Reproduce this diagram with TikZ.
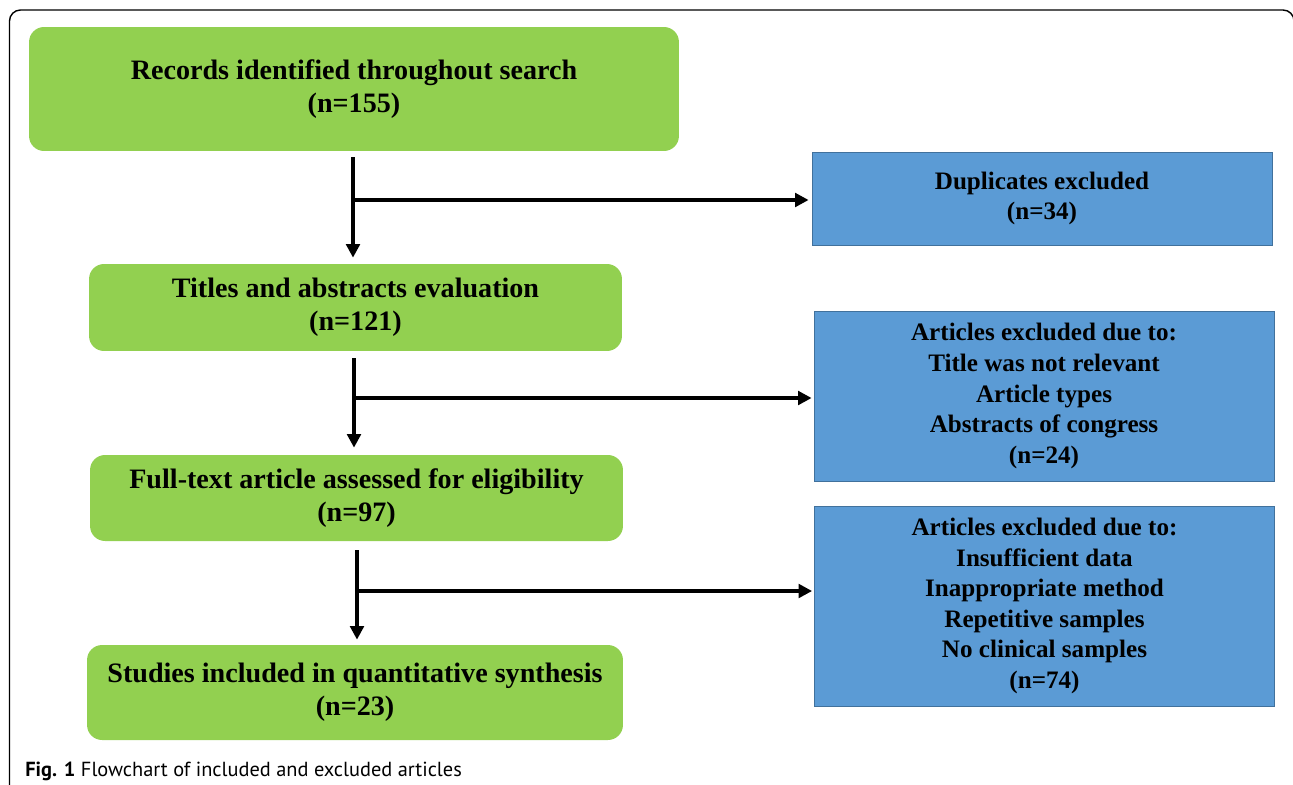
\documentclass[tikz,border=0pt]{standalone}
\usepackage{xcolor}
\usepackage{fontspec}
\setmainfont{Liberation Serif}
\newfontfamily\capfont{PT Sans}
\usepackage{tikz}
\usetikzlibrary{positioning}
\usetikzlibrary{shapes,calc,arrows.meta}

\definecolor{inclgreen}{HTML}{92D050}
\definecolor{exclblue}{HTML}{5B9BD5}
\definecolor{exclborder}{HTML}{41719C}

\begin{document}
\begin{tikzpicture}[x=0.02cm,y=-0.02cm,->,>={Triangle[length=0.27cm,width=0.27cm]},
  flow/.style={line width=2pt},
  incl node/.style={rectangle,rounded corners=0.3cm,fill=inclgreen,align=center,
    font=\fontsize{16}{18.8}\selectfont\bfseries,inner sep=0pt},
  excl node/.style={rectangle,fill=exclblue,draw=exclborder,line width=0.5pt,align=center,
    font=\fontsize{14.3}{17.4}\selectfont\bfseries,inner sep=0pt,minimum width=9.2cm}]
\useasboundingbox (0,0) rectangle (1293,784);
\clip (0,0) rectangle (1293,784);
\draw[-, line width=0.8pt, rounded corners=0.22cm] (9.5,10) rectangle (1294,840);

\node[incl node, minimum width=13cm, minimum height=2.48cm] at (354,89) (rec)
  {Records identified throughout search\\(n=155)};
\node[incl node, minimum width=10.66cm, minimum height=1.74cm] at (355.5,307.5) (tit)
  {Titles and abstracts evaluation\\(n=121)};
\node[incl node, minimum width=10.66cm, minimum height=1.72cm] at (356.5,498) (full)
  {Full-text article assessed for eligibility\\(n=97)};
\node[incl node, minimum width=10.72cm, minimum height=1.9cm] at (355,692.5) (stud)
  {Studies included in quantitative synthesis\\(n=23)};

\node[excl node, minimum height=1.86cm] at (1042,198.5) (dup)
  {Duplicates excluded\\(n=34)};
\node[excl node, minimum height=3.4cm] at (1044,396) (exone)
  {Articles excluded due to:\\Title was not relevant\\Article types\\Abstracts of congress\\(n=24)};
\node[excl node, minimum height=4cm] at (1044.5,606) (extwo)
  {Articles excluded due to:\\Insufficient data\\Inappropriate method\\Repetitive samples\\No clinical samples\\(n=74)};

\coordinate (bone) at (353,200);
\coordinate (btwo) at (354,398);
\coordinate (bthree) at (357,591);

\draw[flow, shorten <=0.12cm, shorten >=0.12cm] (rec.south -| bone) -- (tit.north -| bone);
\draw[flow, shorten <=0.14cm, shorten >=0.14cm] (tit.south -| btwo) -- (full.north -| btwo);
\draw[flow, shorten <=0.18cm, shorten >=0.1cm] (full.south -| bthree) -- (stud.north -| bthree);
\draw[flow, shorten >=0.06cm] (bone) -- (bone -| dup.west);
\draw[flow, shorten >=0.04cm] (btwo) -- (btwo -| exone.west);
\draw[flow, shorten >=0.04cm] (bthree) -- (bthree -| extwo.west);

\node[anchor=base west, inner sep=0pt, font=\capfont\fontsize{11.6}{14}\selectfont] at (25,776) (cap)
  {\textbf{Fig. 1} Flowchart of included and excluded articles};
\end{tikzpicture}
\end{document}
